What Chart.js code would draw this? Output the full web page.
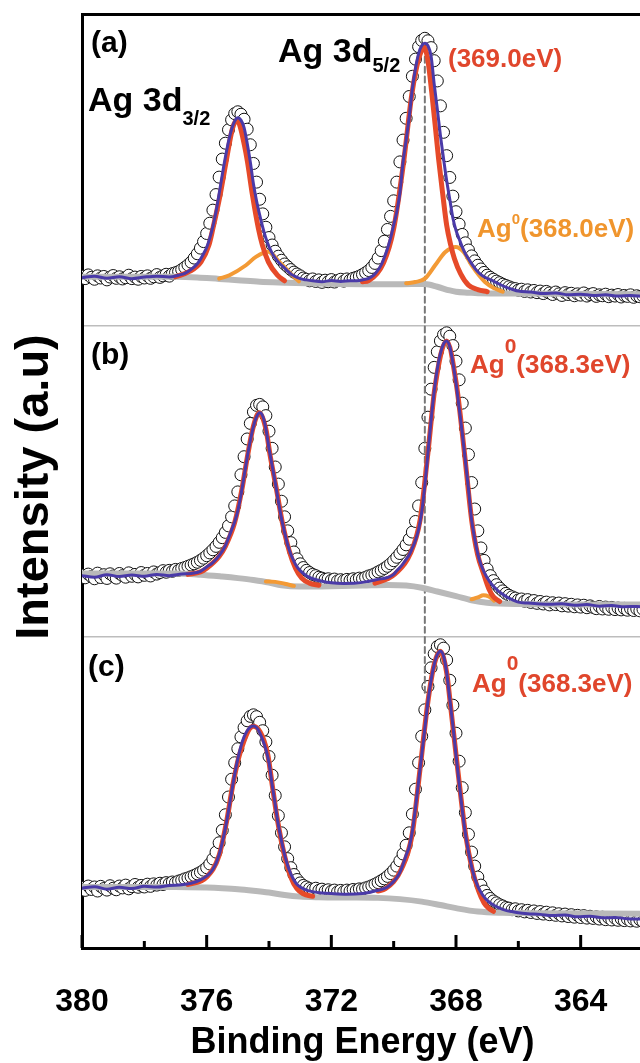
<!DOCTYPE html>
<html>
<head>
<meta charset="utf-8">
<script src="https://cdn.jsdelivr.net/npm/chart.js@4.4.1/dist/chart.umd.min.js"></script>
<style>
  html, body { margin: 0; padding: 0; background: #fff; overflow: hidden; }
  #wrap { width: 650px; height: 1063px; }
</style>
</head>
<body>
<div id="wrap"><canvas id="xps" width="650" height="1063"></canvas></div>
<script>
// binding energy grid of the measured points (eV), 0.1 eV step
const eStart = 380.0;
const eStep = 0.1;

// tick labels on the energy axis
const majorTicks = [380, 376, 372, 368, 364];
const minorTicks = [378, 374, 370, 366, 362];

// measured intensity (a.u., each panel 0..100), 380.0 -> 362.0 eV
const dataA = [
  15.8, 15.0, 16.2, 15.4, 14.8, 15.9, 15.2, 15.7, 14.6, 15.5,
  16.0, 15.1, 15.6, 14.9, 15.3, 16.1, 15.0, 15.5, 14.8, 15.7,
  15.2, 15.9, 15.1, 15.6, 16.3, 15.4, 15.9, 16.4, 15.8, 16.6,
  16.9, 17.3, 17.9, 18.6, 19.4, 20.3, 21.6, 23.0, 24.8, 26.9,
  29.5, 32.8, 37.0, 42.0, 47.6, 53.4, 58.5, 62.8, 66.0, 68.0,
  68.6, 67.8, 66.2, 63.0, 58.0, 52.0, 46.0, 40.5, 35.8, 31.5,
  28.2, 25.8, 23.8, 22.2, 20.9, 19.7, 18.8, 17.9, 17.1, 16.5,
  15.9, 15.2, 14.8, 14.3, 14.9, 14.1, 14.6, 13.8, 14.5, 14.0,
  14.7, 13.9, 14.4, 14.8, 14.2, 14.9, 14.5, 15.1, 15.4, 15.8,
  16.3, 16.9, 17.6, 18.6, 19.9, 21.6, 24.0, 27.0, 30.8, 35.0,
  40.0, 46.0, 52.5, 59.5, 66.5, 73.5, 80.0, 85.5, 89.5, 91.5,
  92.2, 91.4, 89.2, 85.0, 78.5, 70.5, 62.0, 54.5, 47.5, 41.5,
  36.5, 32.5, 29.2, 26.5, 24.2, 22.3, 20.7, 19.3, 18.1, 17.0,
  16.1, 15.4, 14.8, 14.2, 13.7, 13.2, 12.8, 12.4, 12.0, 11.8,
  11.3, 11.6, 10.9, 11.4, 10.7, 11.2, 10.5, 11.0, 10.2, 10.9,
  10.4, 9.9, 10.7, 10.1, 9.6, 10.5, 9.9, 10.3, 9.5, 10.1,
  9.7, 10.4, 9.4, 9.9, 10.2, 9.3, 9.8, 9.5, 10.0, 9.2,
  9.7, 9.4, 9.9, 9.1, 9.6, 9.3, 9.8, 9.0, 9.5, 9.2,
  9.4
];
const dataB = [
  19.8, 18.9, 20.1, 19.3, 18.6, 20.4, 19.0, 19.9, 18.7, 20.2,
  19.5, 18.8, 20.3, 19.6, 19.1, 20.5, 19.4, 20.0, 19.2, 20.6,
  19.7, 20.3, 19.5, 20.8, 20.1, 20.6, 21.2, 20.7, 21.3, 21.0,
  21.6, 21.3, 21.9, 22.2, 22.6, 23.0, 23.4, 23.9, 24.5, 25.2,
  26.0, 26.9, 27.9, 29.0, 30.3, 31.8, 33.5, 35.6, 38.5, 42.0,
  46.5, 52.0, 57.8, 63.5, 68.5, 72.2, 74.3, 74.6, 73.8, 71.0,
  66.0, 60.5, 54.5, 49.0, 43.5, 38.5, 34.0, 30.2, 27.2, 25.0,
  23.4, 22.2, 21.3, 20.6, 20.0, 19.6, 19.1, 18.8, 18.4, 18.6,
  18.1, 18.5, 17.9, 18.3, 18.0, 18.4, 18.1, 18.6, 18.3, 18.8,
  18.6, 19.1, 19.5, 19.8, 20.2, 20.8, 21.3, 21.9, 22.6, 23.4,
  24.4, 25.5, 26.7, 28.0, 29.5, 31.3, 33.6, 37.0, 42.0, 49.5,
  60.5, 70.5, 79.5, 86.5, 91.5, 95.0, 97.0, 97.6, 96.5, 93.5,
  88.5, 82.5, 75.0, 67.0, 58.5, 49.5, 41.0, 34.0, 28.5, 24.5,
  21.7, 19.6, 18.0, 16.7, 15.6, 14.7, 13.9, 13.3, 12.8, 12.4,
  11.8, 12.1, 11.4, 11.9, 11.0, 11.6, 10.7, 11.3, 10.5, 11.1,
  10.2, 10.9, 10.3, 10.8, 9.9, 10.6, 9.8, 10.4, 9.6, 10.2,
  9.5, 10.1, 9.3, 9.9, 9.4, 9.0, 9.7, 8.9, 9.5, 8.8,
  9.4, 8.7, 9.2, 8.6, 9.1, 8.5, 9.0, 8.4, 8.9, 8.3,
  8.8
];
const dataC = [
  19.4, 18.5, 19.9, 18.8, 19.6, 18.3, 19.8, 19.1, 18.6, 20.0,
  19.2, 18.7, 19.9, 19.3, 20.2, 19.0, 19.7, 20.4, 19.5, 20.1,
  19.6, 20.5, 19.8, 20.6, 20.2, 20.8, 20.4, 21.0, 20.7, 21.2,
  21.0, 21.5, 21.8, 22.2, 22.5, 22.9, 23.3, 23.8, 24.3, 25.0,
  25.8, 27.0, 28.6, 30.8, 33.8, 37.8, 42.8, 48.5, 54.2, 59.5,
  64.0, 67.8, 70.8, 73.0, 74.4, 74.9, 74.3, 72.5, 69.8, 66.2,
  61.5, 55.5, 49.0, 42.5, 37.0, 32.5, 28.7, 25.8, 23.6, 22.0,
  20.9, 20.1, 19.6, 19.1, 18.8, 19.2, 18.5, 18.9, 18.3, 18.7,
  18.2, 18.6, 18.0, 18.5, 18.1, 18.6, 18.3, 18.8, 18.5, 19.0,
  18.9, 19.3, 19.6, 20.0, 20.5, 21.0, 21.6, 22.2, 23.0, 23.9,
  25.0, 26.3, 28.0, 30.2, 33.0, 37.0, 43.0, 51.0, 59.5, 68.0,
  76.5, 84.0, 90.0, 94.5, 96.8, 97.4, 96.3, 92.5, 86.0, 78.0,
  69.0, 60.0, 51.5, 43.5, 36.5, 30.8, 26.3, 22.8, 20.2, 18.3,
  16.9, 15.9, 15.1, 14.5, 13.9, 13.5, 13.0, 12.8, 12.3, 12.6,
  11.9, 12.3, 11.6, 12.1, 11.4, 11.9, 11.1, 11.7, 10.9, 11.5,
  10.7, 11.3, 10.5, 11.0, 10.3, 10.9, 10.1, 10.7, 9.9, 10.5,
  9.8, 10.4, 9.6, 10.2, 9.5, 10.0, 9.3, 9.9, 9.1, 9.7,
  9.0, 9.6, 8.9, 9.4, 8.8, 9.3, 8.7, 9.2, 8.6, 9.1,
  8.5
];

// fitted envelope (blue), [eV, intensity]
const envA = [
  [380,15.3],[379.6,15.8],[379.2,15.1],[378.8,15.6],[378.4,15.0],[378.0,15.5],[377.6,15.8],[377.2,15.5],[376.9,16.1],
  [376.7,16.7],[376.5,18.0],[376.4,18.8],[376.3,19.8],[376.2,21.2],[376.1,23.0],[376.0,25.0],
  [375.9,28.0],[375.8,31.8],[375.7,36.5],[375.6,42.3],[375.5,48.3],[375.4,54.0],[375.3,59.0],[375.2,63.0],[375.1,65.6],[375.0,66.7],
  [374.9,65.9],[374.8,63.5],[374.7,58.5],[374.6,52.5],[374.5,45.5],[374.4,40.0],[374.3,35.5],[374.2,31.5],[374.1,28.0],[374.0,25.3],
  [373.9,23.2],[373.8,21.6],[373.7,20.3],[373.6,19.3],[373.5,18.4],[373.4,17.4],[373.3,16.5],[373.2,15.9],[373.1,15.4],[373.0,15.0],
  [372.8,14.6],[372.6,14.3],[372.3,14.0],[372.0,14.4],[371.7,14.1],[371.4,14.3],[371.1,14.4],[370.9,14.8],[370.8,15.1],[370.7,15.7],
  [370.6,16.5],[370.5,17.8],[370.4,19.4],[370.3,21.8],[370.2,24.6],[370.1,28.0],[370.0,32.2],
  [369.9,36.5],[369.8,42.5],[369.7,52.3],[369.6,59.5],[369.5,67.0],[369.4,76.0],[369.3,82.5],[369.2,87.3],[369.1,89.8],[369.0,90.6],
  [368.9,89.8],[368.8,86.5],[368.7,77.5],[368.6,69.5],[368.5,61.0],[368.4,53.6],[368.3,46.5],[368.2,40.5],[368.1,34.5],[368.0,30.5],
  [367.9,27.8],[367.8,25.2],[367.7,23.0],[367.6,21.4],[367.5,19.8],[367.4,18.4],[367.3,17.2],[367.2,16.3],[367.1,15.6],[367.0,15.1],
  [366.8,14.2],[366.6,13.2],[366.4,12.3],[366.2,11.6],[366.0,11.0],[365.6,10.7],[365.2,10.2],[364.8,10.4],[364.4,9.8],
  [364.0,10.0],[363.6,9.6],[363.2,9.8],[362.8,9.4],[362.4,9.6],[362.0,9.3]
];
const envB = [
  [380,19.6],[379.6,19.1],[379.2,19.9],[378.8,19.3],[378.4,19.8],[378.0,19.4],[377.6,20.0],[377.2,19.6],[376.8,20.1],[376.5,20.3],
  [376.2,21.0],[376.0,22.4],[375.8,23.8],[375.6,26.0],[375.4,29.2],[375.2,34.3],[375.1,36.9],[375.0,40.5],[374.9,45.5],[374.8,51.5],
  [374.7,57.6],[374.6,63.0],[374.5,67.5],[374.4,70.6],[374.3,71.9],[374.2,70.8],[374.1,66.8],[374.0,60.5],[373.9,55.0],[373.8,49.5],
  [373.7,43.5],[373.6,38.0],[373.5,33.5],[373.4,29.5],[373.3,26.5],[373.2,24.2],[373.1,22.4],[373.0,21.2],[372.8,19.6],[372.6,18.6],
  [372.3,17.8],[372.0,17.3],[371.6,17.1],[371.2,17.2],[370.8,17.8],[370.5,18.4],[370.2,19.0],[370.0,20.0],[369.9,21.2],[369.8,22.2],
  [369.7,23.4],[369.6,24.8],[369.5,26.3],[369.4,28.5],[369.3,31.0],[369.2,34.5],[369.1,40.0],[369.0,48.5],[368.9,59.0],[368.8,69.5],
  [368.7,78.8],[368.6,86.0],[368.5,91.0],[368.4,94.0],[368.3,95.0],[368.2,93.2],[368.1,88.0],[368.0,81.5],[367.9,73.5],[367.8,65.5],
  [367.7,56.5],[367.6,47.5],[367.5,37.6],[367.4,31.5],[367.3,26.5],[367.2,23.2],[367.1,20.8],[367.0,18.9],[366.9,17.4],[366.8,16.2],
  [366.7,15.2],[366.6,14.3],[366.5,13.6],[366.4,12.9],[366.2,11.9],[366.0,11.1],[365.7,10.8],[365.4,10.6],[365.0,10.4],[364.6,10.6],
  [364.2,10.1],[363.8,10.3],[363.4,9.8],[363.0,10.0],[362.6,9.6],[362.2,9.7],[362.0,9.5]
];
const envC = [
  [380,19.2],[379.6,19.7],[379.2,18.9],[378.8,19.5],[378.4,19.1],[378.0,19.8],[377.6,19.6],[377.2,20.1],[376.8,20.3],[376.5,20.8],
  [376.2,21.9],[376.0,23.1],[375.9,24.0],[375.8,25.3],[375.7,27.2],[375.6,30.0],[375.5,33.8],[375.4,38.5],[375.3,44.0],[375.2,50.0],
  [375.1,55.8],[375.0,60.8],[374.9,64.8],[374.8,67.8],[374.7,69.8],[374.6,71.0],[374.5,71.3],[374.4,70.8],[374.3,69.2],[374.2,66.8],
  [374.1,63.8],[374.0,59.5],[373.9,52.5],[373.8,46.0],[373.7,39.5],[373.6,34.5],[373.5,30.0],[373.4,26.5],[373.3,23.8],[373.2,21.8],
  [373.1,20.4],[373.0,19.6],[372.8,18.6],[372.6,18.1],[372.3,17.7],[372.0,17.5],[371.5,17.3],[371.0,17.5],[370.8,17.8],[370.6,18.3],
  [370.4,18.8],[370.2,19.6],[370.1,20.4],[370.0,21.4],[369.9,22.6],[369.8,24.3],[369.7,26.9],[369.6,29.8],[369.5,32.5],[369.4,37.5],
  [369.3,45.0],[369.2,53.5],[369.1,62.0],[369.0,70.5],[368.9,79.2],[368.8,86.0],[368.7,91.0],[368.6,94.2],[368.5,95.3],[368.4,93.8],
  [368.3,88.5],[368.2,80.0],[368.1,71.5],[368.0,62.0],[367.9,53.0],[367.8,44.5],[367.7,36.8],[367.6,31.0],[367.5,26.2],[367.4,22.5],
  [367.3,19.8],[367.2,17.9],[367.1,16.4],[367.0,15.3],[366.8,13.8],[366.6,12.8],[366.4,12.1],[366.2,11.7],[366.0,11.3],[365.7,11.0],
  [365.3,10.8],[364.9,10.4],[364.5,10.6],[364.1,10.0],[363.7,10.2],[363.3,9.7],[362.9,9.8],[362.5,9.4],[362.0,9.3]
];

// Ag 3d components: 3d3/2 and 3d5/2 (red, orange), [eV, intensity]
const redA32 = [
  [377.0,15.6],[376.55,17.3],[376.18,20.4],[375.93,25.7],[375.80,31.1],[375.57,41.8],[375.38,52.4],[375.17,63.3],[375.04,65.8],
  [374.95,64.6],[374.79,57.9],[374.69,52.5],[374.53,41.8],[374.34,31.1],[374.21,25.7],[374.02,20.4],[373.73,16.1],[373.5,14.3]
];
const redA52 = [
  [371.0,14.0],[370.8,14.4],[370.32,20.2],[370.0,31.0],[369.68,52.5],[369.42,74.0],[369.2,85.5],[369.01,89.2],[368.9,85.0],
  [368.78,75.0],[368.67,64.5],[368.56,53.6],[368.43,42.5],[368.30,32.2],[368.17,25.8],[368.05,21.4],[367.85,16.5],[367.6,12.9],
  [367.3,11.5],[367.0,10.8]
];
const orangeA32 = [
  [375.6,15.0],[375.27,16.1],[374.74,19.3],[374.42,22.0],[374.02,23.6],[373.67,20.4],[373.35,17.1],[373.04,14.1]
];
const orangeA52 = [
  [369.6,13.5],[369.31,13.9],[369.0,15.0],[368.67,19.3],[368.35,23.5],[368.01,25.2],[367.75,23.5],[367.50,19.3],
  [367.07,13.9],[366.75,11.8],[366.5,10.8]
];
const redB32 = [
  [376.6,20.0],[376.2,20.8],[376.0,22.0],[375.6,25.8],[375.4,29.0],[375.1,36.7],[374.87,47.3],[374.69,58.0],[374.5,67.6],
  [374.31,71.9],[374.1,66.7],[373.96,58.0],[373.76,47.3],[373.57,36.6],[373.35,27.5],[373.15,22.0],[372.95,18.8],[372.7,17.2],[372.4,16.5]
];
const redB52 = [
  [370.6,17.2],[370.2,18.6],[369.95,20.2],[369.47,26.6],[369.15,37.6],[368.9,59.1],[368.67,80.5],[368.3,95.0],[367.98,80.5],
  [367.73,59.1],[367.5,37.6],[367.31,26.5],[367.1,19.8],[366.95,15.5],[366.8,12.8],[366.6,11.3]
];
const orangeB32 = [[374.1,17.7],[373.8,17.6],[373.5,17.0],[373.2,16.3]];
const orangeB52 = [[367.5,12.0],[367.3,12.6],[367.12,13.3],[366.95,12.9],[366.78,11.6]];
const redC32 = [
  [376.6,20.4],[376.0,22.8],[375.6,29.8],[375.35,41.2],[375.17,51.9],[374.93,62.6],[374.5,71.2],[374.05,62.6],[373.89,51.9],
  [373.73,41.2],[373.51,30.0],[373.3,22.8],[373.1,19.0],[372.9,17.4],[372.6,16.6]
];
const redC52 = [
  [370.5,18.3],[370.27,19.0],[369.75,25.4],[369.41,36.3],[369.15,57.8],[368.9,79.2],[368.7,91.0],[368.51,95.3],[368.3,88.5],
  [368.19,79.2],[367.95,57.8],[367.69,36.3],[367.48,25.2],[367.28,18.5],[367.1,14.5],[366.95,12.8],[366.8,11.8]
];

// background (gray)
const bgA = [
  [380,15.6],[377,15.6],[376.3,15.4],[375.6,14.9],[375.0,14.5],[374.3,14.0],[373.5,13.7],[372.5,13.4],[371,13.2],[369.8,13.2],
  [369.0,13.3],[368.6,12.4],[368.2,11.2],[368.0,10.8],[367.6,10.5],[367.3,10.3],[366,10.2],[362,10.0]
];
const bgB = [
  [380,20.3],[377,20.3],[376.2,19.9],[375.5,19.3],[375.0,18.8],[374.5,18.2],[374.0,17.4],[373.6,16.5],[373.0,16.1],[372.0,16.2],
  [371.0,16.4],[370.2,16.6],[369.6,16.4],[369.1,15.7],[368.6,14.5],[368.0,13.0],[367.5,11.7],[367.0,10.9],[366.0,10.5],[362.0,10.3]
];
const bgC = [
  [380,19.6],[377,19.6],[376,19.4],[375.5,19.2],[375,18.9],[374.5,18.4],[374.0,17.8],[373.5,17.0],[373.0,16.5],[372.4,16.3],
  [371.5,16.2],[370.5,16.1],[369.8,15.7],[369.1,14.9],[368.5,13.8],[368.0,12.8],[367.3,11.7],[366.5,11.3],[365.7,11.2],[362,11.0]
];

// reference line at 369.0 eV (on the stacked 0..300 axis)
const refLine = [[369.0, 82], [369.0, 290]];

// text labels: start x, baseline y, colour, runs of [text, size, rise]
const RED_T = '#e0462c', ORANGE_T = '#f0952d';
const labels = [
  { x: 91, y: 52, color: '#000', runs: [['(a)', 30, 0]] },
  { x: 91, y: 364, color: '#000', runs: [['(b)', 30, 0]] },
  { x: 88, y: 676, color: '#000', runs: [['(c)', 30, 0]] },
  { x: 88, y: 111, color: '#000', runs: [['Ag 3d', 34, 0], ['3/2', 20, -13.5]] },
  { x: 278, y: 61.5, color: '#000', runs: [['Ag 3d', 34, 0], ['5/2', 20, -10.5]] },
  { x: 448, y: 67, color: RED_T, runs: [['(369.0eV)', 26, 0]] },
  { x: 477, y: 237, color: ORANGE_T, runs: [['Ag', 26, 0], ['0', 15, 13], ['(368.0eV)', 26, 0]] },
  { x: 470, y: 373, color: RED_T, runs: [['Ag', 26, 0], ['0', 21, 20], ['(368.3eV)', 26, 0]] },
  { x: 472, y: 692, color: RED_T, runs: [['Ag', 26, 0], ['0', 21, 22], ['(368.3eV)', 26, 0]] }
];
const yTitle = { text: 'Intensity (a.u)', x: 35, y: 487, size: 47 };

const FONT = '"Liberation Sans", Arial, Helvetica, sans-serif';
const RED = '#e64a29', ORANGE = '#f39a35', BLUE = '#4a3aa8', GRAY = '#b9b9b9';

function points(values, off) {
  return values.map((v, i) => ({ x: Math.round((eStart - i * eStep) * 10) / 10, y: v + off }));
}

function curve(pairs, off, color, width, order, dash) {
  return {
    data: pairs.map(([x, y]) => ({ x, y: y + off })),
    showLine: true,
    borderColor: color,
    borderWidth: width,
    borderDash: dash || [],
    pointRadius: 0,
    pointHoverRadius: 0,
    cubicInterpolationMode: 'monotone',
    borderCapStyle: 'round',
    borderJoinStyle: 'round',
    fill: false,
    order: order,
    xAxisID: 'x',
    yAxisID: 'y'
  };
}

function circles(values, off) {
  return {
    data: points(values, off),
    showLine: false,
    pointRadius: 6,
    pointHoverRadius: 6,
    pointBorderWidth: 1,
    pointBorderColor: '#111',
    pointBackgroundColor: '#fff',
    order: 10,
    xAxisID: 'x',
    yAxisID: 'y'
  };
}

const panels = [
  { off: 200, data: dataA, env: envA, red: [redA32, redA52], orange: [orangeA32, orangeA52], bg: bgA },
  { off: 100, data: dataB, env: envB, red: [redB32, redB52], orange: [orangeB32, orangeB52], bg: bgB },
  { off: 0, data: dataC, env: envC, red: [redC32, redC52], orange: [], bg: bgC }
];

const datasets = [];
panels.forEach(p => {
  datasets.push(circles(p.data, p.off));
  datasets.push(curve(p.bg, p.off, GRAY, 6, 5));
  p.orange.forEach(o => datasets.push(curve(o, p.off, ORANGE, 4, 4)));
  p.red.forEach(r => datasets.push(curve(r, p.off, RED, 5, 3)));
  datasets.push(curve(p.env, p.off, BLUE, 3, 2));
});
datasets.push(curve(refLine, 0, '#777', 2, 7, [6, 4]));

const tickMarks = {
  id: 'tickMarks',
  afterDraw(chart) {
    const { ctx, chartArea, scales: { x } } = chart;
    ctx.save();
    ctx.strokeStyle = '#000';
    ctx.lineWidth = 3;
    const draw = (list, len) => list.forEach(v => {
      const px = x.getPixelForValue(v);
      ctx.beginPath();
      ctx.moveTo(px, chartArea.bottom);
      ctx.lineTo(px, chartArea.bottom - len);
      ctx.stroke();
    });
    draw(majorTicks, 13);
    draw(minorTicks, 7);
    ctx.restore();
  }
};

const textLabels = {
  id: 'textLabels',
  afterDraw(chart) {
    const ctx = chart.ctx;
    ctx.save();
    ctx.textBaseline = 'alphabetic';
    ctx.textAlign = 'left';
    labels.forEach(l => {
      let cx = l.x;
      ctx.fillStyle = l.color;
      l.runs.forEach(([t, size, rise]) => {
        ctx.font = `bold ${size}px ${FONT}`;
        ctx.fillText(t, cx, l.y - rise);
        cx += ctx.measureText(t).width;
      });
    });
    // vertical axis title
    ctx.translate(yTitle.x, yTitle.y);
    ctx.rotate(-Math.PI / 2);
    ctx.textAlign = 'center';
    ctx.textBaseline = 'middle';
    ctx.fillStyle = '#000';
    ctx.font = `bold ${yTitle.size}px ${FONT}`;
    ctx.fillText(yTitle.text, 0, 0);
    ctx.restore();
  }
};

new Chart(document.getElementById('xps'), {
  type: 'scatter',
  data: { datasets },
  options: {
    responsive: false,
    animation: false,
    events: [],
    layout: { padding: { left: 0, right: 5, top: 0, bottom: 0 } },
    plugins: { legend: { display: false }, tooltip: { enabled: false } },
    scales: {
      x: {
        type: 'linear',
        position: 'bottom',
        reverse: true,
        min: 362,
        max: 380,
        afterBuildTicks: s => { s.ticks = majorTicks.map(v => ({ value: v })); },
        afterFit: s => { s.height = 115; },
        grid: { display: false, drawTicks: false },
        border: { display: true, color: '#000', width: 3 },
        ticks: { color: '#000', padding: 35, autoSkip: false, maxRotation: 0,
                 font: { family: FONT, size: 32, weight: 'bold' } },
        title: { display: true, text: 'Binding Energy (eV)', color: '#000',
                 font: { family: FONT, size: 36, weight: 'bold' }, padding: { top: 0, bottom: -2 } }
      },
      xTop: {
        type: 'linear',
        position: 'top',
        min: 0,
        max: 1,
        afterFit: s => { s.height = 14; },
        ticks: { display: false },
        grid: { display: false, drawTicks: false },
        border: { display: true, color: '#000', width: 3 }
      },
      y: {
        type: 'linear',
        position: 'left',
        min: 0,
        max: 300,
        afterFit: s => { s.width = 82; },
        ticks: { display: false, stepSize: 100 },
        grid: {
          drawTicks: false,
          lineWidth: 1.5,
          color: c => (c.tick && (c.tick.value === 100 || c.tick.value === 200)) ? '#bdbdbd' : 'rgba(0,0,0,0)'
        },
        border: { display: true, color: '#000', width: 3 }
      }
    }
  },
  plugins: [tickMarks, textLabels]
});
</script>
</body>
</html>
